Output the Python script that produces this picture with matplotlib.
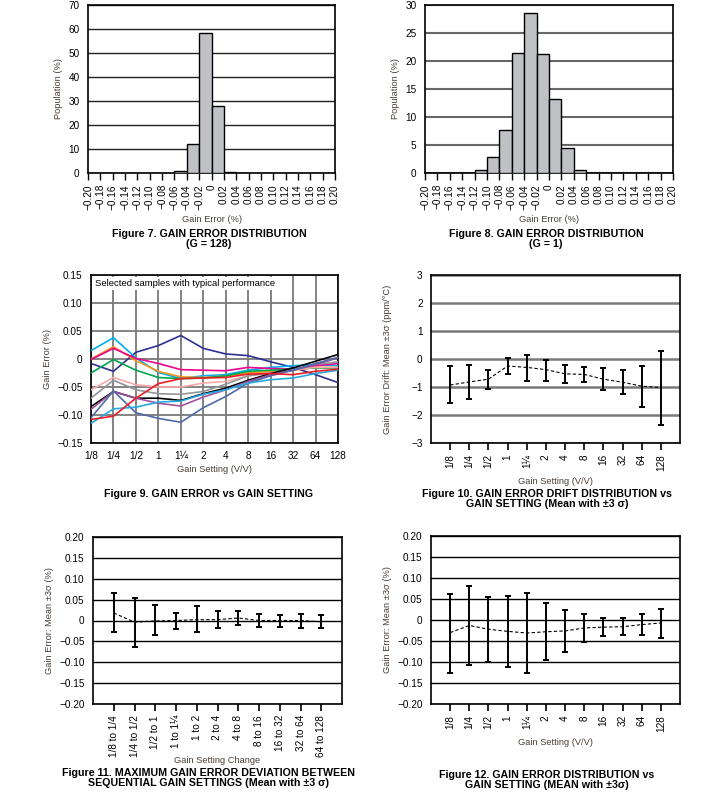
import matplotlib.pyplot as plt
import numpy as np

plt.rcParams["font.family"] = ["Liberation Sans", "DejaVu Sans"]
plt.rcParams["font.size"] = 7.2
plt.rcParams["axes.labelsize"] = 6.7
plt.rcParams["axes.unicode_minus"] = True

W, H = 716, 794

# Figure 7 / 8 histograms (bin left edges, population %)
bin_edges = np.round(np.arange(-0.20, 0.2001, 0.02), 2)
g128_left = [-0.06, -0.04, -0.02, 0.00, 0.02]
g128_pop = [0.7, 12.0, 58.5, 27.8, 0.3]
g1_left = [-0.12, -0.10, -0.08, -0.06, -0.04, -0.02, 0.00, 0.02, 0.04]
g1_pop = [0.5, 2.9, 7.6, 21.5, 28.6, 21.2, 13.2, 4.4, 0.5]

# Figure 9: gain error vs gain setting, selected samples
gains = ["1/8", "1/4", "1/2", "1", "1¼", "2", "4", "8", "16", "32", "64", "128"]
samples = {
    "#2e3192": [-0.008, -0.022, 0.012, 0.024, 0.042, 0.019, 0.009, 0.006, -0.005, -0.015, -0.028, -0.042],
    "#00aeef": [0.015, 0.038, 0.002, -0.024, -0.035, -0.030, -0.028, -0.020, -0.015, -0.012, -0.010, -0.012],
    "#f7941d": [0.000, 0.022, -0.003, -0.022, -0.032, -0.033, -0.030, -0.025, -0.022, -0.020, -0.015, -0.015],
    "#ec008c": [-0.001, 0.019, 0.001, -0.008, -0.019, -0.020, -0.021, -0.015, -0.017, -0.018, -0.012, -0.008],
    "#00a651": [-0.025, -0.001, -0.020, -0.033, -0.035, -0.034, -0.030, -0.022, -0.020, -0.018, -0.016, -0.016],
    "#f7a8a8": [-0.055, -0.033, -0.046, -0.050, -0.050, -0.043, -0.040, -0.030, -0.025, -0.020, -0.015, -0.015],
    "#939598": [-0.070, -0.038, -0.055, -0.062, -0.063, -0.058, -0.045, -0.030, -0.025, -0.020, -0.010, -0.005],
    "#000000": [-0.085, -0.058, -0.070, -0.070, -0.074, -0.062, -0.052, -0.038, -0.026, -0.016, -0.004, 0.008],
    "#a3509e": [-0.090, -0.058, -0.070, -0.079, -0.084, -0.068, -0.055, -0.040, -0.028, -0.020, -0.010, 0.002],
    "#4f6aa8": [-0.105, -0.057, -0.096, -0.106, -0.113, -0.087, -0.067, -0.043, -0.030, -0.020, -0.008, 0.003],
    "#27aae1": [-0.115, -0.089, -0.086, -0.077, -0.075, -0.063, -0.055, -0.043, -0.037, -0.034, -0.026, -0.020],
    "#ed1c24": [-0.108, -0.102, -0.070, -0.044, -0.035, -0.034, -0.033, -0.027, -0.026, -0.028, -0.022, -0.018],
}

# Figure 10: gain error drift, mean and +/-3 sigma limits (ppm/C)
drift_mean = [-0.93, -0.82, -0.72, -0.25, -0.30, -0.38, -0.53, -0.55, -0.72, -0.83, -0.97, -1.02]
drift_hi = [-0.25, -0.22, -0.38, 0.04, 0.15, -0.03, -0.22, -0.28, -0.33, -0.41, -0.25, 0.30]
drift_lo = [-1.58, -1.42, -1.07, -0.55, -0.77, -0.77, -0.87, -0.83, -1.10, -1.25, -1.70, -2.35]

# Figure 11: deviation between sequential gain settings (%)
changes = ["1/8 to 1/4", "1/4 to 1/2", "1/2 to 1", "1 to 1¼", "1 to 2", "2 to 4",
           "4 to 8", "8 to 16", "16 to 32", "32 to 64", "64 to 128"]
dev_mean = [0.018, -0.004, -0.001, 0.000, 0.002, 0.002, 0.006, 0.000, 0.000, 0.000, -0.003]
dev_hi = [0.065, 0.055, 0.036, 0.019, 0.035, 0.023, 0.023, 0.016, 0.014, 0.016, 0.012]
dev_lo = [-0.028, -0.064, -0.035, -0.021, -0.027, -0.017, -0.011, -0.015, -0.015, -0.017, -0.018]

# Figure 12: gain error distribution vs gain setting (%)
err_mean = [-0.030, -0.013, -0.022, -0.027, -0.031, -0.028, -0.026, -0.019, -0.017, -0.016, -0.011, -0.007]
err_hi = [0.063, 0.080, 0.055, 0.056, 0.065, 0.040, 0.024, 0.015, 0.005, 0.004, 0.015, 0.027]
err_lo = [-0.127, -0.107, -0.099, -0.111, -0.127, -0.096, -0.076, -0.052, -0.039, -0.036, -0.036, -0.042]

label_color = "#4a3f38"

fig = plt.figure(figsize=(W / 100, H / 100), dpi=100)


def ax_at(x0, y0, x1, y1):
    return fig.add_axes([x0 / W, 1 - y1 / H, (x1 - x0) / W, (y1 - y0) / H])


def caption(x, y, lines):
    fig.text(x / W, 1 - y / H, "\n".join(lines), ha="center", va="top",
             fontsize=7.7, fontweight="bold", linespacing=1.0)


def xlabel_at(ax, text, y_top, y_bottom_axes, height):
    ax.set_xlabel(text, color=label_color)
    ax.xaxis.set_label_coords(0.5, -(y_top - y_bottom_axes) / height)


def fmt(v):
    return "0" if abs(v) < 1e-9 else ("%.2f" % v).replace("-", "\u2212")


def frame(ax):
    for s in ax.spines.values():
        s.set_linewidth(1.2)
        s.set_color("black")


def hist(ax, left, pop, ymax, ystep, gridcolor, gridlw):
    ax.bar(left, pop, width=0.02, align="edge", color="#c0c1c5",
           edgecolor="black", linewidth=1.0, zorder=3)
    ax.set_xlim(-0.20, 0.20)
    ax.set_ylim(0, ymax)
    ax.set_yticks(np.arange(0, ymax + 1, ystep))
    ax.set_xticks(bin_edges)
    ax.set_xticklabels([fmt(v) for v in bin_edges], rotation=90)
    ax.yaxis.grid(True, color=gridcolor, linewidth=gridlw, zorder=0)
    ax.tick_params(axis="y", length=0, pad=6)
    ax.tick_params(axis="x", length=5, width=1, direction="out", pad=3)
    ax.set_ylabel("Population (%)", color=label_color)
    xlabel_at(ax, "Gain Error (%)", 215, 173, 168)
    frame(ax)


ax7 = ax_at(88, 5, 335, 173)
hist(ax7, g128_left, g128_pop, 70, 10, "#222222", 1.0)
caption(209, 229, ["Figure 7. GAIN ERROR DISTRIBUTION", "(G = 128)"])

ax8 = ax_at(425, 5, 673, 173)
hist(ax8, g1_left, g1_pop, 30, 5, "#666666", 1.5)
caption(546, 229, ["Figure 8. GAIN ERROR DISTRIBUTION", "(G = 1)"])

# Figure 9
ax9 = ax_at(91, 275, 338, 443)
xg = np.arange(len(gains))
for color, vals in samples.items():
    ax9.plot(xg, vals, color=color, linewidth=1.2, zorder=3)
ax9.set_xlim(0, len(gains) - 1)
ax9.set_ylim(-0.15, 0.15)
yt9 = np.round(np.arange(-0.15, 0.1501, 0.05), 2)
ax9.set_yticks(yt9)
ax9.set_yticklabels([fmt(v) for v in yt9])
ax9.set_xticks(xg)
ax9.set_xticklabels(gains)
ax9.grid(True, color="#7a7a7a", linewidth=1.3, zorder=0)
ax9.tick_params(length=0, pad=6)
xlabel_at(ax9, "Gain Setting (V/V)", 465, 443, 168)
ax9.set_ylabel("Gain Error (%)", color=label_color)
ax9.text(0.2, 0.135, "Selected samples with typical performance", va="center",
         ha="left", fontsize=6.8, zorder=4,
         bbox=dict(facecolor="white", edgecolor="none", pad=1.5))
frame(ax9)
caption(209, 489, ["Figure 9. GAIN ERROR vs GAIN SETTING"])


def errplot(ax, labels, mean, hi, lo, ylim, yticks, ylabel, gridcolor, gridlw):
    x = np.arange(len(labels))
    mean = np.array(mean)
    yerr = [mean - np.array(lo), np.array(hi) - mean]
    ax.errorbar(x, mean, yerr=yerr, fmt="none", ecolor="black", elinewidth=1.4,
                capsize=2.5, capthick=1.4, zorder=4)
    ax.plot(x, mean, color="black", linestyle=(0, (3, 2)), linewidth=0.8, zorder=3)
    ax.set_xlim(-1, len(labels))
    ax.set_ylim(*ylim)
    ax.set_yticks(yticks)
    ax.set_yticklabels([fmt(v) for v in yticks])
    ax.set_xticks(x)
    ax.set_xticklabels(labels, rotation=90)
    ax.yaxis.grid(True, color=gridcolor, linewidth=gridlw, zorder=0)
    ax.tick_params(axis="y", length=0, pad=6)
    ax.tick_params(axis="x", length=5, width=1.2, direction="out", pad=3)
    ax.set_ylabel(ylabel, color=label_color)
    frame(ax)


# Figure 10
ax10 = ax_at(431, 275, 680, 443)
errplot(ax10, gains, drift_mean, drift_hi, drift_lo, (-3, 3), np.arange(-3, 4, 1),
        "Gain Error Drift: Mean \u00b13\u03c3 (ppm/\u00b0C)", "#7a7a7a", 1.8)
ax10.set_yticklabels([str(v).replace("-", "\u2212") for v in range(-3, 4)])
ax10.yaxis.set_label_coords(-0.155, 0.5)
xlabel_at(ax10, "Gain Setting (V/V)", 477, 443, 168)
caption(547, 489, ["Figure 10. GAIN ERROR DRIFT DISTRIBUTION vs",
                   "GAIN SETTING (Mean with \u00b13 \u03c3)"])

yt = np.round(np.arange(-0.20, 0.2001, 0.05), 2)

# Figure 11
ax11 = ax_at(93, 537, 342, 704)
errplot(ax11, changes, dev_mean, dev_hi, dev_lo, (-0.20, 0.20), yt,
        "Gain Error: Mean \u00b13\u03c3 (%)", "black", 1.0)
xlabel_at(ax11, "Gain Setting Change", 756, 704, 167)
caption(208, 768, ["Figure 11. MAXIMUM GAIN ERROR DEVIATION BETWEEN",
                   "SEQUENTIAL GAIN SETTINGS (Mean with \u00b13 \u03c3)"])

# Figure 12
ax12 = ax_at(431, 536, 680, 704)
errplot(ax12, gains, err_mean, err_hi, err_lo, (-0.20, 0.20), yt,
        "Gain Error: Mean \u00b13\u03c3 (%)", "black", 1.0)
xlabel_at(ax12, "Gain Setting (V/V)", 738, 704, 168)
caption(547, 770, ["Figure 12. GAIN ERROR DISTRIBUTION vs",
                   "GAIN SETTING (MEAN with \u00b13\u03c3)"])

fig.savefig("out.png", dpi=100, facecolor="white")
